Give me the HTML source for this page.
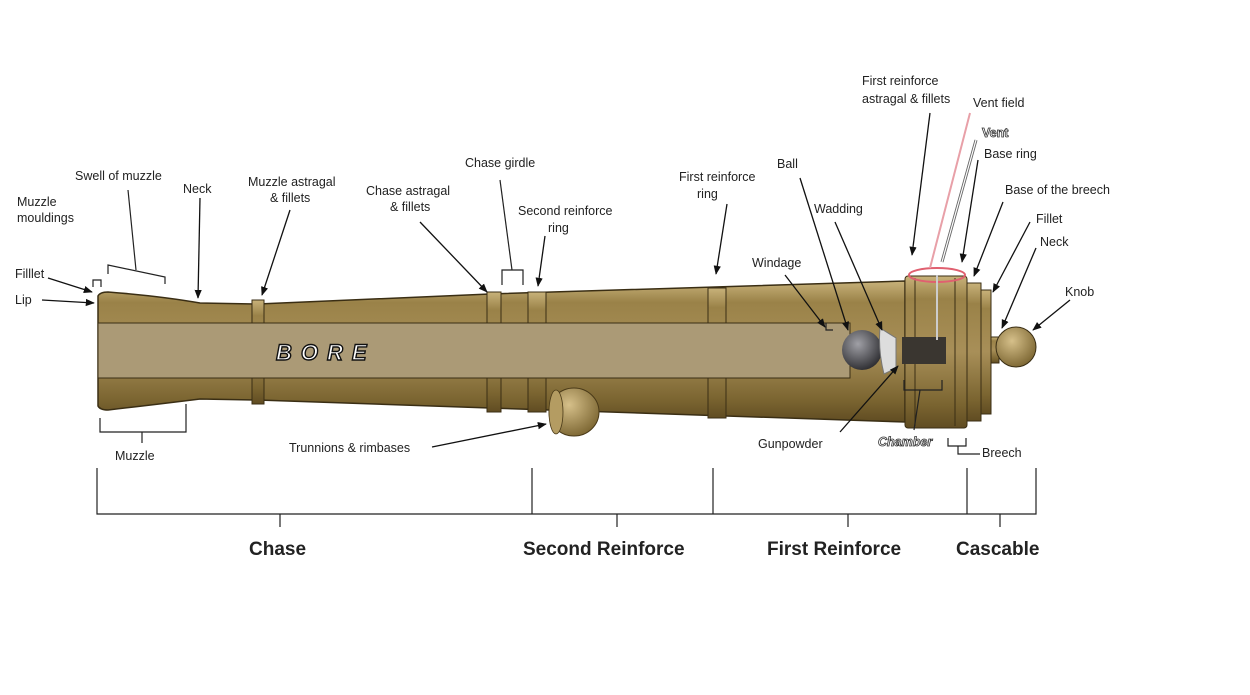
<!DOCTYPE html>
<html><head><meta charset="utf-8"><style>
html,body{margin:0;padding:0;background:#fff;}
svg{display:block;}
text{font-family:"Liberation Sans",Arial,sans-serif;fill:#222;font-size:12.5px;}
.b{font-weight:bold;font-size:19px;fill:#222;}
</style></head><body>
<svg width="1250" height="695" viewBox="0 0 1250 695" xmlns="http://www.w3.org/2000/svg">
<defs>
<linearGradient id="g" x1="0" y1="0" x2="0" y2="1">
<stop offset="0" stop-color="#c8b27a"/><stop offset="0.15" stop-color="#9a8248"/><stop offset="0.5" stop-color="#a88f58"/><stop offset="0.85" stop-color="#7a6430"/><stop offset="1" stop-color="#604c22"/></linearGradient>
<radialGradient id="ball" cx="0.4" cy="0.35" r="0.7"><stop offset="0" stop-color="#a0a0a6"/><stop offset="1" stop-color="#2a2a2e"/></radialGradient>
<radialGradient id="knob" cx="0.4" cy="0.35" r="0.7"><stop offset="0" stop-color="#d6c08a"/><stop offset="1" stop-color="#7a6430"/></radialGradient>
<marker id="a" viewBox="0 0 10 10" refX="9" refY="5" markerWidth="7" markerHeight="7" orient="auto"><path d="M0,1 L10,5 L0,9 z" fill="#111"/></marker>
</defs>
<!-- body -->
<path d="M98,296 Q100,292 108,292 Q160,296 200,303 L258,304 L490,294 L905,281 L905,422 L490,408 L258,400 L200,399 Q160,404 108,410 Q100,410 98,406 Z" fill="url(#g)" stroke="#3a2e14" stroke-width="1.5"/>
<!-- trunnion -->
<ellipse cx="574" cy="412" rx="25" ry="24" fill="url(#knob)" stroke="#4a3a18"/>
<ellipse cx="556" cy="412" rx="7" ry="22" fill="#b49c62" stroke="#4a3a18" stroke-width="0.8"/>
<!-- rings -->
<g fill="url(#g)" stroke="#3a2e14" stroke-width="1">
<rect x="252" y="300" width="12" height="104"/>
<rect x="487" y="292" width="14" height="120"/>
<rect x="528" y="292" width="18" height="120"/>
<rect x="708" y="288" width="18" height="130"/>
<rect x="905" y="276" width="62" height="152" rx="3"/>
<rect x="967" y="283" width="14" height="138"/>
<rect x="981" y="290" width="10" height="124"/>
<rect x="991" y="337" width="8" height="26"/>
</g>
<line x1="915" y1="278" x2="915" y2="426" stroke="#3a2e14"/>
<line x1="955" y1="278" x2="955" y2="426" stroke="#3a2e14"/>
<circle cx="1016" cy="347" r="20" fill="url(#knob)" stroke="#3a2e14"/>
<!-- bore -->
<rect x="98" y="323" width="752" height="55" fill="#ab9a76" stroke="#3a2e14" stroke-width="1"/>
<text x="276" y="360" style="font-size:22px;font-weight:bold;font-style:italic;fill:#fff;stroke:#111;stroke-width:1.4;letter-spacing:9px">BORE</text>
<circle cx="862" cy="350" r="20" fill="url(#ball)"/>
<path d="M880,328 L896,338 L896,368 L884,374 Q878,350 880,328Z" fill="#ddd" stroke="#777"/>
<rect x="902" y="337" width="44" height="27" fill="#3a3630"/>
<ellipse cx="937" cy="275" rx="28" ry="7" fill="none" stroke="#e06070" stroke-width="2"/>
<line x1="937" y1="275" x2="937" y2="340" stroke="#ccc" stroke-width="2"/>
<!-- leader lines -->
<g stroke="#111" stroke-width="1.3" fill="none" marker-end="url(#a)">
<line x1="48" y1="278" x2="92" y2="292"/>
<line x1="42" y1="300" x2="94" y2="303"/>
<line x1="200" y1="198" x2="198" y2="298"/>
<line x1="290" y1="210" x2="262" y2="295"/>
<line x1="420" y1="222" x2="487" y2="292"/>
<line x1="545" y1="236" x2="538" y2="286"/>
<line x1="727" y1="204" x2="716" y2="274"/>
<line x1="800" y1="178" x2="848" y2="330"/>
<line x1="835" y1="222" x2="882" y2="330"/>
<line x1="785" y1="275" x2="825" y2="327"/>
<line x1="930" y1="113" x2="912" y2="255"/>
<line x1="978" y1="160" x2="962" y2="262"/>
<line x1="1003" y1="202" x2="974" y2="276"/>
<line x1="1030" y1="222" x2="993" y2="292"/>
<line x1="1036" y1="248" x2="1002" y2="328"/>
<line x1="1070" y1="300" x2="1033" y2="330"/>
<line x1="432" y1="447" x2="546" y2="424"/>
<line x1="840" y1="432" x2="898" y2="366"/>
</g>
<line x1="970" y1="113" x2="930" y2="268" stroke="#e8a0a8" stroke-width="2"/>
<line x1="976" y1="140" x2="942" y2="262" stroke="#666" stroke-width="3"/>
<line x1="976" y1="140" x2="942" y2="262" stroke="#fff" stroke-width="1.2"/>
<!-- brackets -->
<g stroke="#222" stroke-width="1.2" fill="none">
<path d="M93,287 V280 H101 V287"/>
<path d="M108,274 V265 L165,277 V284"/><line x1="136" y1="270" x2="128" y2="190"/>
<path d="M100,418 V432 H186 V404"/><line x1="142" y1="432" x2="142" y2="443"/>
<path d="M502,285 V270 H523 V285"/><line x1="512" y1="270" x2="500" y2="180"/>
<path d="M826,323 V330 H833"/>
<path d="M904,380 V390 H942 V380"/><line x1="920" y1="390" x2="914" y2="430"/>
<path d="M948,438 V446 H966 V438"/><path d="M958,446 V454 H980"/>
<path d="M97,468 V514 H1036 V468"/>
<line x1="532" y1="468" x2="532" y2="514"/><line x1="713" y1="468" x2="713" y2="514"/><line x1="967" y1="468" x2="967" y2="514"/>
<line x1="280" y1="514" x2="280" y2="527"/><line x1="617" y1="514" x2="617" y2="527"/><line x1="848" y1="514" x2="848" y2="527"/><line x1="1000" y1="514" x2="1000" y2="527"/>
</g>
<!-- labels -->
<text x="17" y="206">Muzzle</text><text x="17" y="222">mouldings</text>
<text x="15" y="278">Filllet</text><text x="15" y="304">Lip</text>
<text x="75" y="180">Swell of muzzle</text>
<text x="183" y="193">Neck</text>
<text x="248" y="186">Muzzle astragal</text><text x="270" y="202">&amp; fillets</text>
<text x="366" y="195">Chase astragal</text><text x="390" y="211">&amp; fillets</text>
<text x="465" y="167">Chase girdle</text>
<text x="518" y="215">Second reinforce</text><text x="548" y="232">ring</text>
<text x="679" y="181">First reinforce</text><text x="697" y="198">ring</text>
<text x="777" y="168">Ball</text>
<text x="814" y="213">Wadding</text>
<text x="752" y="267">Windage</text>
<text x="862" y="85">First reinforce</text><text x="862" y="103">astragal &amp; fillets</text>
<text x="973" y="107">Vent field</text>
<text x="982" y="137" style="font-weight:bold;fill:#fff;stroke:#333;stroke-width:0.8">Vent</text>
<text x="984" y="158">Base ring</text>
<text x="1005" y="194">Base of the breech</text>
<text x="1036" y="223">Fillet</text>
<text x="1040" y="246">Neck</text>
<text x="1065" y="296">Knob</text>
<text x="115" y="460">Muzzle</text>
<text x="289" y="452">Trunnions &amp; rimbases</text>
<text x="758" y="448">Gunpowder</text>
<text x="878" y="446" style="font-weight:bold;font-style:italic;fill:#fff;stroke:#333;stroke-width:0.8">Chamber</text>
<text x="982" y="457">Breech</text>
<text class="b" x="249" y="555">Chase</text>
<text class="b" x="523" y="555">Second Reinforce</text>
<text class="b" x="767" y="555">First Reinforce</text>
<text class="b" x="956" y="555">Cascable</text>
</svg>
</body></html>
